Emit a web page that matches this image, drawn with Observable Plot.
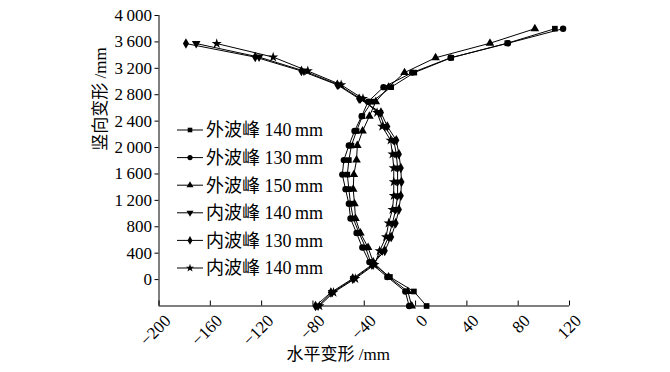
<!DOCTYPE html>
<html><head><meta charset="utf-8">
<script src="https://cdn.jsdelivr.net/npm/d3@7"></script>
<script src="https://cdn.jsdelivr.net/npm/@observablehq/plot@0.6"></script>
<style>
html,body{margin:0;padding:0;background:#fff;}
#wrap{position:relative;width:670px;height:372px;overflow:hidden;}
#legend{position:absolute;left:0;top:0;}
</style></head><body><div id="wrap"></div>
<script>
// Heights (vertical position, mm) of the measuring points
const outerHeights = [-400,-180,40,265,485,705,925,1150,1370,1590,1810,2030,2250,2475,2695,2915,3135,3360,3580,3800];
const innerHeights = [-400,-195,15,225,435,645,855,1060,1270,1480,1690,1900,2110,2320,2530,2740,2950,3160,3370,3575];

// Horizontal deformation (mm) per series
const outer140 = [8.6,-1.3,-20,-35,-39,-44,-48.6,-50.7,-52,-53.2,-52,-50,-46,-41.5,-34,-19,-1,27.8,71.5,108.6];
const outer130 = [-5,-8,-22,-36,-41.5,-46,-50.7,-52,-54.6,-57.1,-55.9,-52,-47.6,-42,-37,-25,-2.6,27.3,72,115];
const outer150 = [-3,-6,-21,-33,-37,-43,-46.8,-47.6,-48.6,-48.1,-46,-45.4,-41.3,-36,-31,-21,-8.6,15.6,58,93];
const inner140a = [-76,-65,-48,-33,-26,-21,-18,-15.5,-14,-14,-14,-15,-17,-24,-28.5,-43,-60,-87,-122,-171];
const inner130 = [-78,-66,-49,-34,-24,-19,-15.5,-13,-11.5,-11,-11.5,-13,-15,-22,-27,-44,-61,-89,-125,-179];
const inner140b = [-75,-64,-47,-32,-28,-23,-21,-18,-17,-17,-17,-18,-19.5,-26,-30,-41,-58,-84,-111,-155];

const seriesNames = ["外波峰 140\u2009mm","外波峰 130\u2009mm","外波峰 150\u2009mm","内波峰 140\u2009mm","内波峰 130\u2009mm","内波峰 140\u2009mm"];
const xTicks = [-200,-160,-120,-80,-40,0,40,80,120];
const yTicks = [0,400,800,1200,1600,2000,2400,2800,3200,3600,4000];
const xTitle = "水平变形 /mm";
const yTitle = "竖向变形 /mm";

const sqrt3 = Math.sqrt(3);
const triangleDown = {draw(context, size){
  const y = -Math.sqrt(size / (sqrt3 * 3));
  context.moveTo(0, -y * 2);
  context.lineTo(-sqrt3 * y, y);
  context.lineTo(sqrt3 * y, y);
  context.closePath();
}};
const symbols = [d3.symbolSquare, d3.symbolCircle, d3.symbolTriangle, triangleDown, d3.symbolDiamond, d3.symbolStar];
const xsList = [outer140, outer130, outer150, inner140a, inner130, inner140b];
const hList = [outerHeights, outerHeights, outerHeights, innerHeights, innerHeights, innerHeights];

const series = xsList.map((xs, k) => xs.map((x, i) => ({x, y: hList[k][i], s: k})));

const font = "'Liberation Serif','Times New Roman','Noto Sans CJK SC',serif";
const fmtY = d => String(d).replace(/\B(?=(\d{3})+(?!\d))/g, "\u2009");
const fmtX = d => d < 0 ? "\u2212" + Math.abs(d) : String(d);

const marks = [
  Plot.ruleX([-200], {stroke: "black", strokeWidth: 1}),
  Plot.ruleY([-400], {stroke: "black", strokeWidth: 1}),
  Plot.ruleX(xTicks, {x: d => d, y1: -400, y2: -400, insetTop: -5, stroke: "black"}),
  Plot.axisY({ticks: yTicks, tickFormat: fmtY, tickSize: 4, tickPadding: 3, label: null, fontSize: 17}),
  Plot.text(xTicks, {x: d => d, frameAnchor: "bottom", text: fmtX, rotate: -45, textAnchor: "end", lineAnchor: "middle", dx: 9, dy: 12, fontSize: 17}),
  Plot.text([xTitle], {frameAnchor: "bottom", dx: -26, dy: 54, fontSize: 17}),
  Plot.text([yTitle], {frameAnchor: "left", rotate: -90, dx: -58, dy: -10, fontSize: 17})
];
series.forEach((data, k) => {
  marks.push(Plot.line(data, {x: "x", y: "y", stroke: "black", strokeWidth: 1}));
});
series.forEach((data, k) => {
  marks.push(Plot.dot(data, {x: "x", y: "y", symbol: symbols[k], r: 3.2, fill: "black", stroke: "none"}));
});

const chart = Plot.plot({
  width: 670, height: 372,
  marginLeft: 158.5, marginRight: 101, marginTop: 15, marginBottom: 66.5,
  x: {domain: [-200, 120], axis: null},
  y: {domain: [-400, 4000], axis: null},
  style: {fontFamily: font, fontSize: "17px", color: "black", background: "white"},
  marks
});
const wrap = document.getElementById("wrap");
wrap.appendChild(chart);

// Legend overlay
const leg = d3.select(wrap).append("svg").attr("id", "legend").attr("width", 670).attr("height", 372)
  .style("font-family", font);
seriesNames.forEach((name, k) => {
  const y = 130 + k * 27.6;
  const g = leg.append("g").attr("transform", `translate(0,${y})`);
  g.append("line").attr("x1", 177).attr("x2", 203).attr("y1", 0).attr("y2", 0).attr("stroke", "black");
  g.append("path").attr("d", d3.symbol(symbols[k], Math.PI * 2.6 * 2.6)()).attr("transform", "translate(190,0)").attr("fill", "black");
  g.append("text").attr("x", 206).attr("y", 0).attr("dy", "0.35em").attr("font-size", 18).text(name);
});
</script></body></html>
